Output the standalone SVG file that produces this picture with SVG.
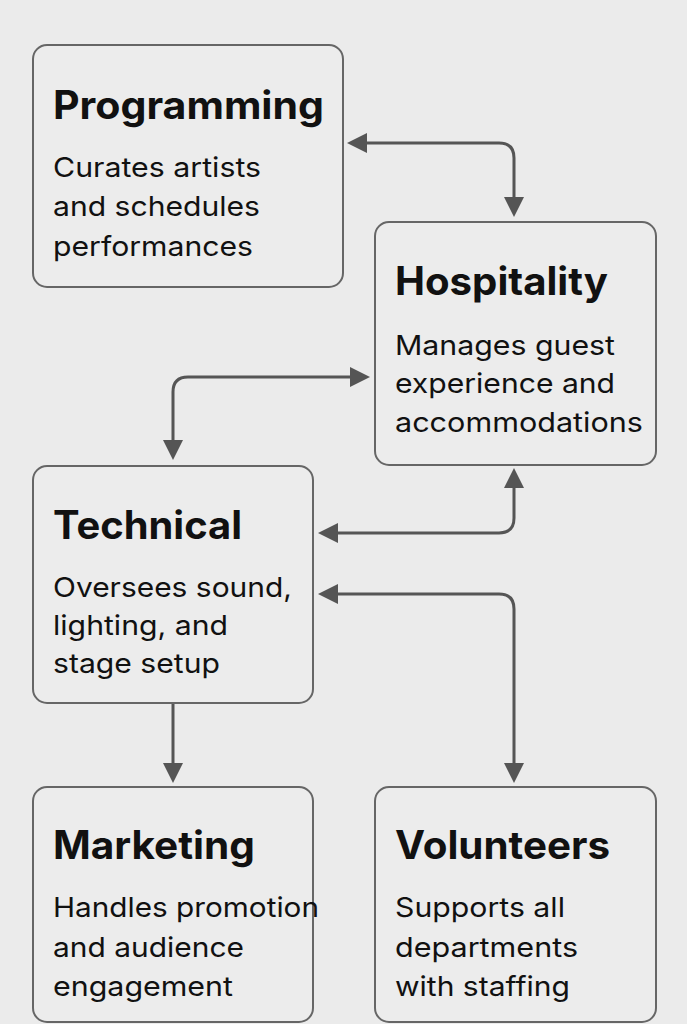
<svg xmlns="http://www.w3.org/2000/svg" width="687" height="1024" viewBox="0 0 687 1024">
<style>
.box{fill:#ececec;stroke:#666;stroke-width:2}
.t{font-family:Inter,"Liberation Sans",sans-serif;font-weight:700;font-size:39px;fill:#111}
.b{font-family:Inter,"Liberation Sans",sans-serif;font-weight:400;font-size:27.5px;fill:#111}
.c{fill:none;stroke:#555;stroke-width:3}
</style>
<defs>
<marker id="ah" markerUnits="userSpaceOnUse" viewBox="0 0 20 20" markerWidth="20" markerHeight="20" refX="4" refY="10" orient="auto-start-reverse">
<path d="M0,0 L20,10 L0,20 z" fill="#555"/>
</marker>
</defs>
<rect width="687" height="1024" fill="#ebebeb"/>
<g id="connectors">
<path class="c" d="M363 143 H499 Q514 143 514 158 V201" marker-start="url(#ah)" marker-end="url(#ah)"/>
<path class="c" d="M354 377 H188 Q173 377 173 392 V444" marker-start="url(#ah)" marker-end="url(#ah)"/>
<path class="c" d="M334 533 H499 Q514 533 514 518 V484" marker-start="url(#ah)" marker-end="url(#ah)"/>
<path class="c" d="M334 594 H499 Q514 594 514 609 V767" marker-start="url(#ah)" marker-end="url(#ah)"/>
<path class="c" d="M173 703 V767" marker-end="url(#ah)"/>
</g>
<g id="programming">
<rect class="box" x="33" y="45" width="310" height="242" rx="14"/>
<text class="t" x="53" y="119" textLength="271" lengthAdjust="spacingAndGlyphs">Programming</text>
<text class="b" x="53" y="177" textLength="208" lengthAdjust="spacingAndGlyphs">Curates artists</text>
<text class="b" x="53" y="216" textLength="207" lengthAdjust="spacingAndGlyphs">and schedules</text>
<text class="b" x="53" y="256" textLength="200" lengthAdjust="spacingAndGlyphs">performances</text>
</g>
<g id="hospitality">
<rect class="box" x="375" y="222" width="281" height="243" rx="14"/>
<text class="t" x="395" y="295" textLength="213" lengthAdjust="spacingAndGlyphs">Hospitality</text>
<text class="b" x="395" y="355" textLength="220" lengthAdjust="spacingAndGlyphs">Manages guest</text>
<text class="b" x="395" y="393" textLength="220" lengthAdjust="spacingAndGlyphs">experience and</text>
<text class="b" x="395" y="432" textLength="248" lengthAdjust="spacingAndGlyphs">accommodations</text>
</g>
<g id="technical">
<rect class="box" x="33" y="466" width="280" height="237" rx="14"/>
<text class="t" x="53" y="539" textLength="189" lengthAdjust="spacingAndGlyphs">Technical</text>
<text class="b" x="53" y="597" textLength="239" lengthAdjust="spacingAndGlyphs">Oversees sound,</text>
<text class="b" x="53" y="635" textLength="175" lengthAdjust="spacingAndGlyphs">lighting, and</text>
<text class="b" x="53" y="673" textLength="167" lengthAdjust="spacingAndGlyphs">stage setup</text>
</g>
<g id="marketing">
<rect class="box" x="33" y="787" width="280" height="235" rx="14"/>
<text class="t" x="53" y="859" textLength="202" lengthAdjust="spacingAndGlyphs">Marketing</text>
<text class="b" x="53" y="917" textLength="266" lengthAdjust="spacingAndGlyphs">Handles promotion</text>
<text class="b" x="53" y="957" textLength="191" lengthAdjust="spacingAndGlyphs">and audience</text>
<text class="b" x="53" y="996" textLength="180" lengthAdjust="spacingAndGlyphs">engagement</text>
</g>
<g id="volunteers">
<rect class="box" x="375" y="787" width="281" height="235" rx="14"/>
<text class="t" x="395" y="859" textLength="215" lengthAdjust="spacingAndGlyphs">Volunteers</text>
<text class="b" x="395" y="917" textLength="170" lengthAdjust="spacingAndGlyphs">Supports all</text>
<text class="b" x="395" y="957" textLength="183" lengthAdjust="spacingAndGlyphs">departments</text>
<text class="b" x="395" y="996" textLength="175" lengthAdjust="spacingAndGlyphs">with staffing</text>
</g>
</svg>
